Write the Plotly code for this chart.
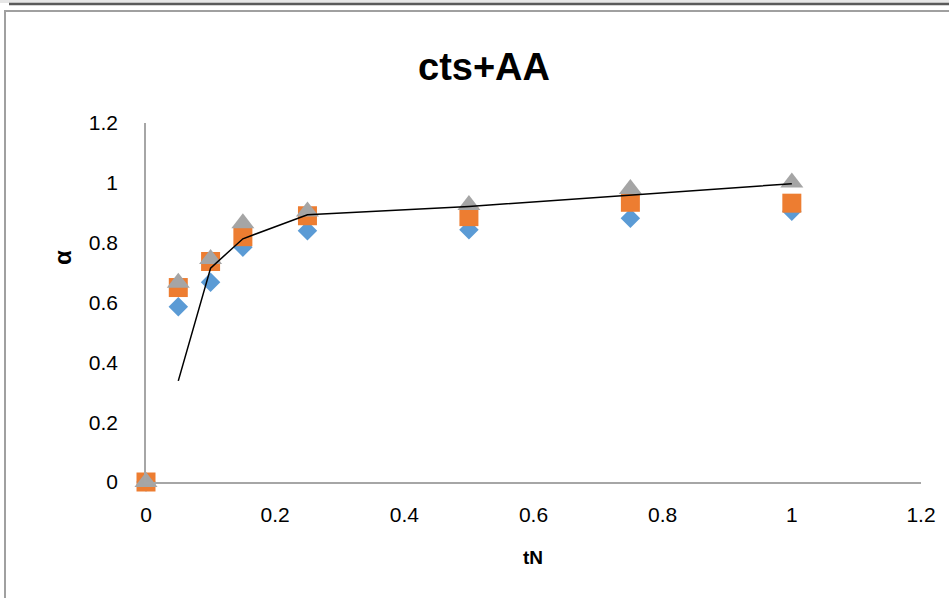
import plotly.graph_objects as go

x_vals = [0, 0.05, 0.1, 0.15, 0.25, 0.5, 0.75, 1]
series1 = [0, 0.586, 0.668, 0.785, 0.84, 0.843, 0.882, 0.905]
series2 = [0, 0.65, 0.737, 0.82, 0.89, 0.887, 0.935, 0.932]
series3 = [0, 0.666, 0.745, 0.865, 0.904, 0.926, 0.979, 1.001]
fit_x = [0.05, 0.1, 0.15, 0.25, 0.5, 0.75, 1]
fit_y = [0.338, 0.715, 0.813, 0.893, 0.921, 0.96, 0.997]

W, H = 949, 598
L, R, T, B = 146, 28, 123, 116
pw, ph = W - L - R, H - T - B

def px(x):
    return (x - L) / pw

def py(y):
    return (H - B - y) / ph

fig = go.Figure()
fig.add_trace(go.Scatter(x=x_vals, y=series1, mode="markers", cliponaxis=False,
                         marker=dict(symbol="diamond", size=15, color="#5B9BD5",
                                     line=dict(width=0)), showlegend=False))
fig.add_trace(go.Scatter(x=x_vals, y=series2, mode="markers", cliponaxis=False,
                         marker=dict(symbol="square", size=19, color="#ED7D31",
                                     line=dict(width=0)), showlegend=False))
fig.add_trace(go.Scatter(x=x_vals, y=series3, mode="markers", cliponaxis=False,
                         marker=dict(symbol="triangle-up", size=20, color="#A5A5A5",
                                     line=dict(width=0)), showlegend=False))
fig.add_trace(go.Scatter(x=fit_x, y=fit_y, mode="lines", cliponaxis=False,
                         line=dict(color="black", width=1.5), showlegend=False))

axis_common = dict(range=[0, 1.2], dtick=0.2, tick0=0, showgrid=False, zeroline=False,
                   showline=True, linecolor="#A6A6A6", linewidth=1.5, ticks="",
                   tickfont=dict(family="Liberation Sans, Arial, sans-serif", size=21, color="black"),
                   fixedrange=True)
fig.update_xaxes(**axis_common, ticklabelstandoff=13)
fig.update_yaxes(**axis_common, ticklabelstandoff=22)

shapes = [
    # top strip
    dict(type="rect", xref="paper", yref="paper", x0=px(0), x1=px(W), y0=py(3), y1=py(0),
         fillcolor="#E6E6E6", line=dict(width=0), layer="below"),
    dict(type="line", xref="paper", yref="paper", x0=px(9), x1=px(W), y0=py(4), y1=py(4),
         line=dict(color="#5A5A5A", width=2.5)),
    # frame
    dict(type="rect", xref="paper", yref="paper", x0=px(5), x1=px(W + 10), y0=py(H + 10), y1=py(11),
         fillcolor="rgba(0,0,0,0)", line=dict(color="#A0A0A0", width=2), layer="below"),
]

annotations = [
    dict(text="tN", x=px(533), y=py(557), xref="paper", yref="paper", showarrow=False,
         xanchor="center", yanchor="middle",
         font=dict(family="Liberation Sans, Arial, sans-serif", size=19, color="black", weight="bold")),
    dict(text="α", x=px(62), y=py(258), xref="paper", yref="paper", showarrow=False, textangle=-90,
         xanchor="center", yanchor="middle",
         font=dict(family="Liberation Sans, Arial, sans-serif", size=24, color="black", weight="bold")),
]

fig.update_layout(
    width=W, height=H,
    margin=dict(l=L, r=R, t=T, b=B, autoexpand=False),
    paper_bgcolor="white", plot_bgcolor="white",
    title=dict(text="<b>cts+AA</b>", x=484 / W, xanchor="center", y=1 - 67 / H, yanchor="middle",
               font=dict(family="Liberation Sans, Arial, sans-serif", size=38, color="black")),
    shapes=shapes, annotations=annotations,
)

fig.write_html("out.html", config={"displayModeBar": False},
               post_script="document.body.style.margin='0';document.body.style.overflow='hidden';")
